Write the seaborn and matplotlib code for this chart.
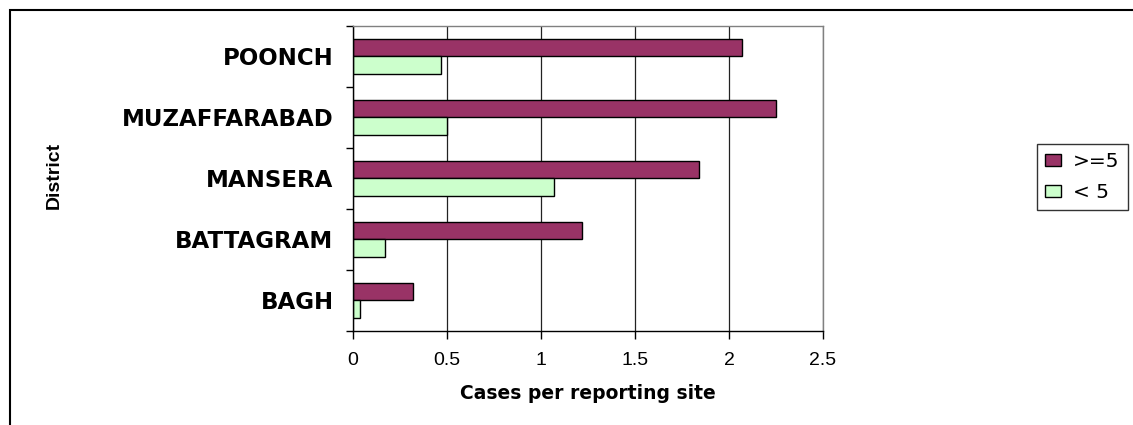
import matplotlib
matplotlib.use("Agg")
import matplotlib.pyplot as plt
import seaborn as sns
import pandas as pd
import numpy as np
from matplotlib.patches import Rectangle

districts = ["POONCH", "MUZAFFARABAD", "MANSERA", "BATTAGRAM", "BAGH"]
groups = [">=5", "< 5"]
vals_ge5 = [2.07, 2.25, 1.84, 1.22, 0.32]
vals_lt5 = [0.47, 0.50, 1.07, 0.17, 0.035]
xtick_vals = [0, 0.5, 1, 1.5, 2, 2.5]
xtick_labels = ["0", "0.5", "1", "1.5", "2", "2.5"]
colors = ["#993366", "#CCFFCC"]

df = pd.DataFrame({
    "district": districts * 2,
    "group": [groups[0]] * len(districts) + [groups[1]] * len(districts),
    "value": vals_ge5 + vals_lt5,
})

sns.set_theme(style="white")
plt.rcParams["font.family"] = ["Liberation Sans", "DejaVu Sans"]
plt.rcParams["text.color"] = "black"
plt.rcParams["axes.labelcolor"] = "black"
plt.rcParams["xtick.color"] = "black"
plt.rcParams["ytick.color"] = "black"

fig = plt.figure(figsize=(11.33, 4.25), dpi=100)
ax = fig.add_axes([353 / 1133, 1 - 330.7 / 425, (823 - 353) / 1133, (330.7 - 25.7) / 425])

sns.barplot(data=df, x="value", y="district", hue="group", order=districts,
            hue_order=groups, palette=colors, orient="h", width=0.574,
            edgecolor="black", linewidth=1.0, ax=ax, saturation=1, legend=True)

ax.set_xlim(0, 2.5)
ax.set_ylim(4.5, -0.5)
ax.set_xticks(xtick_vals)
ax.set_xticklabels(xtick_labels, fontsize=14, color="black")
ax.set_yticks(range(len(districts)))
ax.set_yticklabels(districts, fontsize=16.5, fontweight="bold", family="DejaVu Sans", color="black")
ax.set_yticks(np.arange(-0.5, len(districts), 1.0), minor=True)
ax.tick_params(axis="y", which="major", length=0, pad=14)
ax.tick_params(axis="y", which="minor", length=5, width=1, color="black", direction="out", left=True)
ax.tick_params(axis="x", which="major", length=6, width=1, color="black", direction="out", bottom=True, pad=9)

ax.xaxis.grid(True, color="#222222", linewidth=0.9)
ax.yaxis.grid(False)
ax.set_axisbelow(True)

for side in ["left", "bottom"]:
    ax.spines[side].set_color("black")
    ax.spines[side].set_linewidth(1.0)
for side in ["top", "right"]:
    ax.spines[side].set_color("#808080")
    ax.spines[side].set_linewidth(1.0)

ax.set_xlabel("Cases per reporting site", fontsize=13.5, fontweight="bold",
              family="DejaVu Sans", labelpad=11, color="black")
ax.set_ylabel("")
fig.text(54 / 1133, 1 - 175 / 425, "District", rotation=90, fontsize=14,
         fontweight="bold", ha="center", va="center", color="black")

handles, labels = ax.get_legend_handles_labels()
ax.get_legend().remove()
leg = fig.legend(handles, labels, loc="upper left", bbox_to_anchor=(1037 / 1133, 1 - 144 / 425),
                 frameon=True, fancybox=False, handlelength=0.8,
                 handleheight=0.55, handletextpad=0.6, borderpad=0.4, labelspacing=0.6,
                 borderaxespad=0, prop={"family": "DejaVu Sans", "size": 14.5})
for t in leg.get_texts():
    t.set_color("black")
leg.get_frame().set_edgecolor("black")
leg.get_frame().set_linewidth(1.0)

fig.patches.append(Rectangle((10 / 1133, -0.1), 1.2, 1 - 10 / 425 + 0.1,
                             transform=fig.transFigure, fill=False,
                             edgecolor="black", linewidth=1.5))

fig.savefig("out.png", dpi=100)
